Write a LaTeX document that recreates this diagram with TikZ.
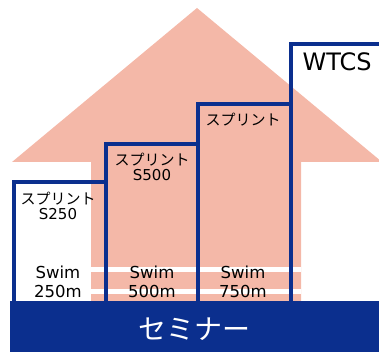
\documentclass[tikz,border=0pt]{standalone}
\usepackage{fontspec}
\setmainfont{DejaVu Sans}
\newfontfamily\jpfont{Noto Sans CJK JP}
\usetikzlibrary{positioning}
\definecolor{salmon}{RGB}{244,184,168}
\definecolor{navy}{RGB}{11,47,142}
\tikzset{stairbox/.style={draw=navy,line width=4pt,line join=miter},
         lbl/.style={font=\fontsize{15}{15.5}\selectfont,align=center,inner sep=0pt},
         swim/.style={lbl,font=\fontsize{16.5}{19}\selectfont}}

\begin{document}
\begin{tikzpicture}[x=1pt,y=-1pt]
    \useasboundingbox (0,0) rectangle (379,352);
    % arrow
    \fill[salmon] (197,8) -- (382,162) -- (301,162) -- (301,301) -- (91,301) -- (91,162) -- (12,162) -- cycle;
    \fill[white] (91,267) rectangle (301,272);
    \fill[white] (91,289) rectangle (301,294);
    % base
    \fill[navy] (10,301) rectangle (381,353);
    \node[font=\jpfont\fontsize{28}{30}\selectfont,text=white] (seminar) at (194,329) {セミナー};
    % steps
    \draw[stairbox] (13.5,303) -- (13.5,182) -- (106,182);
    \draw[stairbox] (106,303) -- (106,144) -- (198,144) -- (198,303);
    \draw[stairbox] (198,144) -- (198,104) -- (291,104) -- (291,303);
    \draw[stairbox] (291,104) -- (291,44) -- (385,44);
    \node[lbl] (s250) at (58,206) {{\jpfont スプリント}\\S250};
    \node[lbl] (s500) at (152,167) {{\jpfont スプリント}\\S500};
    \node[lbl,font=\jpfont\fontsize{15}{15.5}\selectfont] (sprint) at (243,120) {スプリント};
    \node[font=\fontsize{24}{26}\selectfont] (wtcs) at (337,61.5) {WTCS};
    \node[swim] (swim250) at (58,281.5) {Swim\\250m};
    \node[swim] (swim500) at (152,281.5) {Swim\\500m};
    \node[swim] (swim750) at (243,281.5) {Swim\\750m};
\end{tikzpicture}
\end{document}
